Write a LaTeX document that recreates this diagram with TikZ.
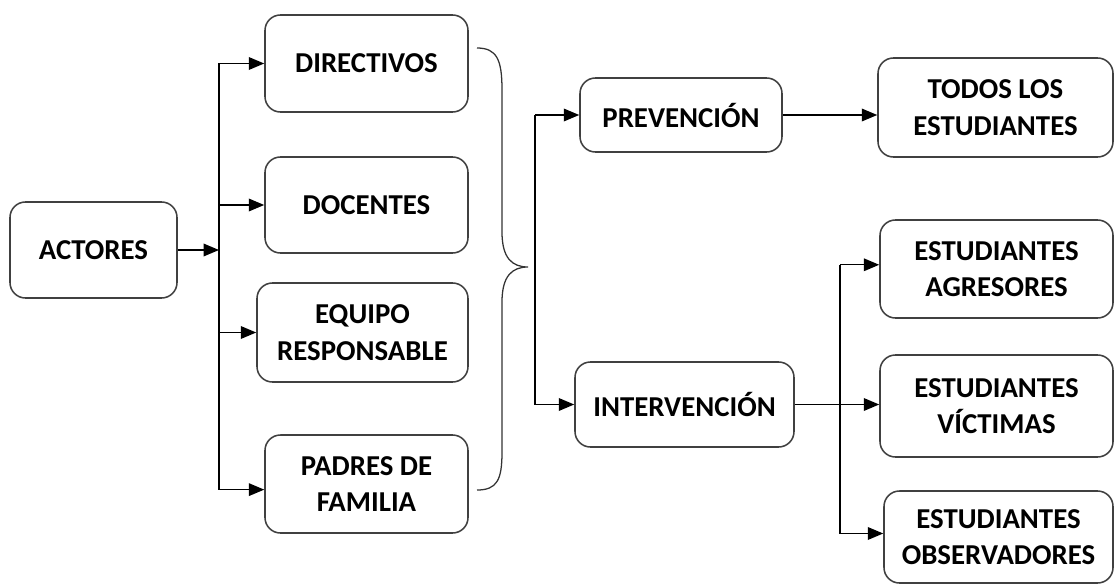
\documentclass[tikz,border=0pt]{standalone}
\usepackage{fontspec}
\setmainfont{Carlito}
\usetikzlibrary{arrows.meta}
\tikzset{arr/.style={-{Triangle[length=11pt,width=9pt]},line width=1pt}}

\begin{document}
\begin{tikzpicture}[x=0.025cm,y=-0.025cm,
  box/.style 2 args={draw=black!75,line width=1.1pt,rounded corners=11pt,align=center,inner sep=0pt,
    minimum width=#1*0.025cm,minimum height=#2*0.025cm,font=\fontsize{20.5}{26}\selectfont\bfseries}]
\useasboundingbox (0,0) rectangle (1115,584);
\node[box={167}{96}](act) at (93.5,250){ACTORES};
\node[box={203}{97}](dir) at (366.5,63.5){DIRECTIVOS};
\node[box={203}{96}](doc) at (366.5,205){DOCENTES};
\node[box={211}{99}](equ) at (362.5,332.5){EQUIPO\\RESPONSABLE};
\node[box={203}{98}](pad) at (366.5,484){PADRES DE\\FAMILIA};
\node[box={202}{74}](prev) at (681,115){PREVENCIÓN};
\node[box={219}{85}](int) at (684.5,404.5){INTERVENCIÓN};
\node[box={235}{99}](todos) at (995.5,107.5){TODOS LOS\\ESTUDIANTES};
\node[box={233}{98}](agr) at (996.5,269){ESTUDIANTES\\AGRESORES};
\node[box={233}{102}](vic) at (996.5,406){ESTUDIANTES\\VÍCTIMAS};
\node[box={229}{92}](obs) at (998.5,537){ESTUDIANTES\\OBSERVADORES};
\coordinate(bl) at (219,0);
\coordinate(br) at (535,0);
\coordinate(bv) at (840,0);
% actores
\draw[arr](act.east)--(act.east-|bl);
\draw[arr](bl|-dir.west)|-([yshift=-4pt]pad.west);
\draw[arr](bl|-dir.west)--(dir.west);
\draw[arr](bl|-doc.west)--(doc.west);
\draw[arr](bl|-equ.west)--(equ.west);
% llave
\draw[line width=0.9pt,black!80](477,48) .. controls (497,48) and (502,60) .. (502,90)--(502,232)
  .. controls (502,258) and (512,267) .. (528,267) .. controls (512,267) and (502,276) .. (502,302)
  --(502,452) .. controls (502,480) and (497,490) .. (477,490);
\draw[arr](br|-prev.west)--(prev.west);
\draw[arr](br|-prev.west)|-(int.west);
\draw[arr](prev.east)--(prev.east-|todos.west);
% intervencion
\draw[arr](int.east)--(int.east-|vic.west);
\draw[arr]([yshift=3pt]bv|-agr.west)--([yshift=3pt]agr.west);
\draw[arr]([yshift=3pt]bv|-agr.west)|-([yshift=2.5pt]obs.west);
\end{tikzpicture}
\end{document}
